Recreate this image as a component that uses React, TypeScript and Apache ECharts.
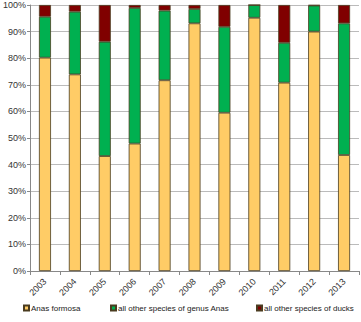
import React, { useEffect, useRef } from "react";
import * as echarts from "echarts";

const years = ["2003", "2004", "2005", "2006", "2007", "2008", "2009", "2010", "2011", "2012", "2013"];
const anasFormosa = [80.2, 73.9, 43.2, 47.9, 71.7, 93.1, 59.5, 95.2, 70.8, 90.0, 43.6];
const otherAnas = [15.4, 23.6, 43.0, 51.0, 26.2, 5.4, 32.3, 4.8, 15.0, 9.8, 49.5];
const otherDucks = [4.4, 2.5, 13.8, 1.1, 2.1, 1.5, 8.2, 0.0, 14.2, 0.2, 6.9];
const seriesNames = ["Anas formosa", "all other species of genus Anas", "all other species of ducks"];
const colors = ["#FFCC66", "#00B050", "#800000"];

export default function App() {
  const ref = useRef<HTMLDivElement>(null);
  useEffect(() => {
    if (!ref.current) return;
    const chart = echarts.init(ref.current, null, { renderer: "svg" });
    const font = "'Liberation Sans', Arial, sans-serif";
    const data = [anasFormosa, otherAnas, otherDucks];
    const legendLefts = [23, 110, 256];
    chart.setOption({
      animation: false,
      textStyle: { fontFamily: font },
      grid: { left: 29, right: 2, top: 5, bottom: 51, containLabel: false },
      legend: seriesNames.map((n, i) => ({
        data: [n],
        left: legendLefts[i],
        top: 304,
        itemWidth: 5,
        itemHeight: 5,
        itemGap: 2,
        icon: "rect",
        padding: 0,
        textStyle: { fontSize: 8, color: "#222222", fontFamily: font, padding: [0, 0, 0, -3] },
        selectedMode: false,
      })),
      xAxis: {
        type: "category",
        data: years,
        axisLine: { lineStyle: { color: "#888", width: 1 } },
        axisTick: { show: true, length: 4, lineStyle: { color: "#888" } },
        axisLabel: { rotate: 45, fontSize: 9, color: "#333", margin: 9, fontFamily: font },
      },
      yAxis: {
        type: "value",
        min: 0,
        max: 100,
        interval: 10,
        axisLine: { show: true, lineStyle: { color: "#888", width: 1 } },
        axisTick: { show: true, length: 3, lineStyle: { color: "#888" } },
        axisLabel: { formatter: "{value}%", fontSize: 9, color: "#333", margin: 4, fontFamily: font },
        splitLine: { lineStyle: { color: "#bbb", width: 1 } },
      },
      series: seriesNames.map((n, i) => ({
        name: n,
        type: "bar",
        stack: "total",
        barWidth: 12,
        data: data[i],
        itemStyle: { color: colors[i], borderColor: "#4a3c20", borderWidth: 0.8 },
      })),
    });
    return () => chart.dispose();
  }, []);
  return <div ref={ref} style={{ width: 361, height: 322, position: "absolute", left: 0, top: 0 }} />;
}
